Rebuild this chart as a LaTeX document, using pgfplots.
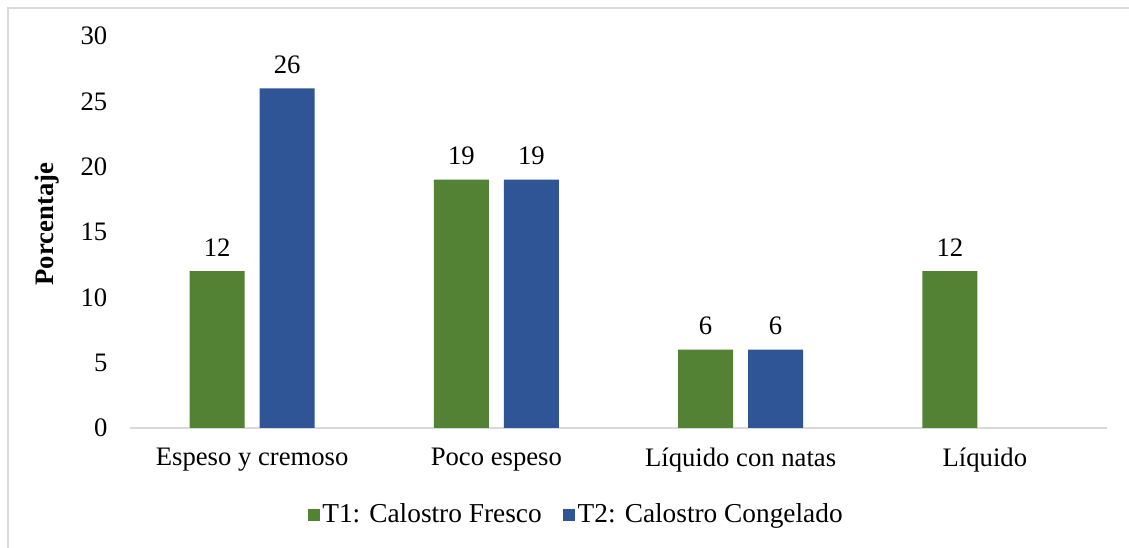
\documentclass[border=0pt]{standalone}
\usepackage{fontspec}
\setmainfont{Liberation Serif}
\usepackage{pgfplots}
\pgfplotsset{compat=1.18}
\definecolor{tgreen}{HTML}{548235}
\definecolor{tblue}{HTML}{2F5597}
\definecolor{frame}{HTML}{D9D9D9}
\begin{document}
\fontsize{20}{24}\selectfont
\begin{tikzpicture}
\useasboundingbox (0,0) rectangle (846.75pt,-411pt);
\fill[white] (0,0) rectangle (846.75pt,-411pt);
\draw[frame,line width=1.2pt] (6pt,-420pt) -- (6pt,-6pt) -- (860pt,-6pt);
\begin{axis}[
  at={(97.5pt,-321pt)}, anchor=south west,
  scale only axis, width=732.75pt, height=294pt,
  xmin=-0.5, xmax=3.5, ymin=0, ymax=30,
  ytick={0,5,...,30},
  xtick={0,1,2,3},
  xticklabels={Espeso y cremoso, Poco espeso, Líquido con natas, Líquido},
  axis x line=bottom, axis y line=left,
  x axis line style={draw=frame, line width=1.2pt, -},
  y axis line style={draw=none},
  tick style={draw=none},
  /pgf/number format/assume math mode=true,
  ticklabel style={font=\fontsize{20}{24}\selectfont},
  yticklabel style={xshift=-8pt},
  xticklabel style={yshift=-4pt},
  ybar, bar width=41.25pt,
  nodes near coords,
  every node near coord/.append style={font=\fontsize{20}{24}\selectfont, yshift=4pt},
  legend columns=2,
  legend style={at={(0.457,-0.222)}, anchor=center, draw=none, font=\fontsize{20.5}{24}\selectfont,
    /tikz/every even column/.append style={column sep=14pt}},
  legend image code/.code={\fill[#1] (0pt,-4.5pt) rectangle (9pt,4.5pt);},
  clip=false,
]
\addplot[fill=tgreen, draw=none, bar shift=-26.25pt] coordinates {(0,12) (1,19) (2,6) (3,12)};
\addplot[fill=tblue, draw=none, bar shift=26.25pt] coordinates {(0,26) (1,19) (2,6)};
\legend{T1: Calostro Fresco, T2: Calostro Congelado}
\node[rotate=90, font=\fontsize{20}{24}\selectfont\bfseries] at (rel axis cs:-0.085,0.52) {Porcentaje};
\end{axis}
\end{tikzpicture}
\end{document}
